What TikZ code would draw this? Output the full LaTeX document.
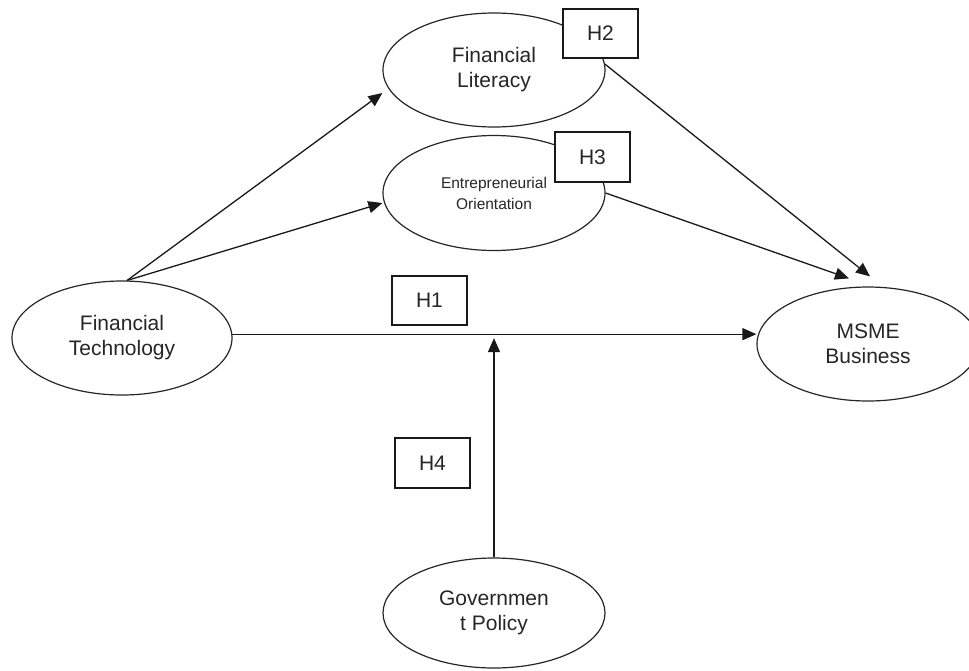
\documentclass[tikz,border=0pt]{standalone}
\usepackage{fontspec}
\setmainfont{Liberation Sans}
\usetikzlibrary{shapes.geometric,arrows.meta,calc}
\begin{document}
\begin{tikzpicture}[x=1pt,y=-1pt,
  var/.style={ellipse,draw=black!85,line width=1.2pt,fill=white,inner sep=0pt,
    minimum width=222pt,minimum height=114pt,align=center,text=black!85,
    font=\fontsize{21}{25}\selectfont},
  hyp/.style={rectangle,draw=black!90,line width=1.2pt,fill=white,
    minimum width=75pt,minimum height=49pt,inner sep=0pt,text=black!85,
    font=\fontsize{21}{25}\selectfont},
  arr/.style={draw=black!90,line width=1.3pt,-{Triangle[length=14pt,width=12pt]}}]
\useasboundingbox (0,0) rectangle (969,670);

% variables
\node[var] (fl) at (494,70) {Financial\\Literacy};
\node[var,minimum height=115pt,font=\fontsize{15.5}{21}\selectfont] (eo) at (494,193) {Entrepreneurial\\Orientation};
\node[var,minimum width=220pt] (ft) at (122,338) {Financial\\Technology};
\node[var] (msme) at (868,344) {MSME\\Business};
\node[var,minimum height=110pt] (gov) at (494,613) {Governmen\\t Policy};

% connectors
\coordinate (tfl) at ($(fl.west)+(0,23)$);
\coordinate (teo) at ($(eo.west)+(0,10)$);
\coordinate (tm2) at ($(msme.north)+(2,-10)$);
\coordinate (tm3) at ($(msme.north)+(-19,-8)$);
\coordinate (mod) at (ft.2 -| gov.north);

\draw[arr] (ft.85) -- (tfl);
\draw[arr] (ft.85) -- (teo);
\draw[arr] (ft.2) -- (ft.2 -| msme.west);
\draw[arr] (fl.3) -- (tm2);
\draw[arr] (eo.east) -- (tm3);
\draw[arr,shorten >=4pt] (gov.north) -- (mod);

% hypothesis labels
\node[hyp] (h2) at (600.5,33.5) {H2};
\node[hyp,minimum height=50pt] (h3) at (592.5,157) {H3};
\node[hyp] (h1) at (429.5,300.5) {H1};
\node[hyp,minimum height=50pt] (h4) at (432.5,463) {H4};
\end{tikzpicture}
\end{document}
